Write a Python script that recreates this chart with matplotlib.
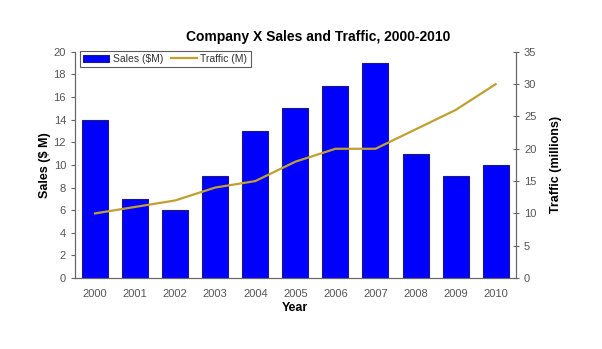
import numpy as np
import matplotlib.pyplot as plt

plt.rcParams['font.family'] = ['Liberation Sans', 'DejaVu Sans']

years = ['2000', '2001', '2002', '2003', '2004', '2005', '2006', '2007', '2008', '2009', '2010']
sales = [14, 7, 6, 9, 13, 15, 17, 19, 11, 9, 10]
traffic = [10, 11, 12, 14, 15, 18, 20, 20, 23, 26, 30]

fig = plt.figure(figsize=(6.02, 3.49), dpi=100)
ax = fig.add_axes([0.1246, 0.2034, 0.732, 0.648])
ax2 = ax.twinx()

x = np.arange(len(years))
bars = ax.bar(x, sales, width=0.65, color='#0000ff', edgecolor='#1a1a80', linewidth=0.8, label='Sales ($M)')
line, = ax2.plot(x, traffic, color='#c0a030', linewidth=1.6, label='Traffic (M)')

ax.set_xlim(-0.5, len(years) - 0.5)
ax.set_ylim(0, 20)
ax.set_yticks(range(0, 21, 2))
ax2.set_ylim(0, 35)
ax2.set_yticks(range(0, 36, 5))
ax.set_xticks(x)
ax.set_xticklabels(years)

gray = '#555555'
for a in (ax, ax2):
    a.spines['top'].set_visible(False)
    for s in ('left', 'right', 'bottom'):
        a.spines[s].set_color('#666666')
    a.tick_params(colors='#666666', labelcolor=gray, labelsize=8, length=3)
ax.tick_params(axis='x', length=0, pad=8)
ax2.tick_params(axis='y', direction='inout', length=5)

ax.set_xlabel('Year', fontsize=9, fontweight='bold', labelpad=2)
ax.set_ylabel('Sales ($ M)', fontsize=9, fontweight='bold', labelpad=2)
ax2.set_ylabel('Traffic (millions)', fontsize=9, fontweight='bold', labelpad=10)
fig.suptitle('Company X Sales and Traffic, 2000-2010', x=0.528, y=0.915, fontsize=10, fontweight='bold')

leg = ax.legend([bars, line], ['Sales ($M)', 'Traffic (M)'], loc='upper left', ncol=2,
                bbox_to_anchor=(0.012, 1.005), fontsize=7.5, frameon=True, fancybox=False,
                borderpad=0.3, handlelength=2.5, columnspacing=0.8, handletextpad=0.3,
                borderaxespad=0)
leg.get_frame().set_edgecolor('#333333')
leg.get_frame().set_linewidth(0.8)
for t in leg.get_texts():
    t.set_color('#333333')

fig.savefig('out.png', dpi=100)
